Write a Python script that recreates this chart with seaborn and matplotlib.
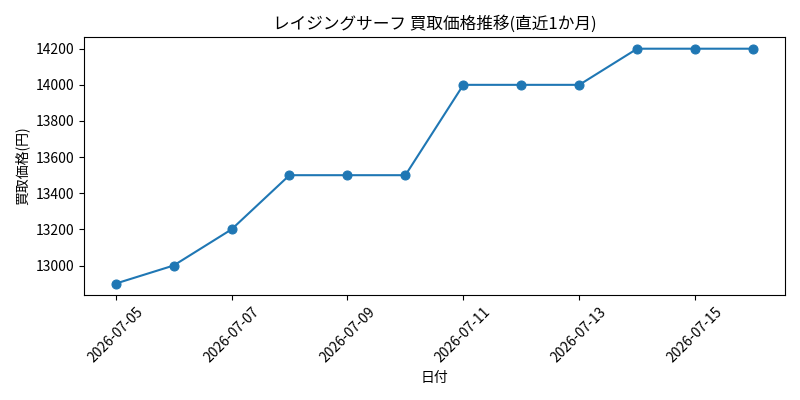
import pandas as pd
import matplotlib
matplotlib.use('Agg')
import matplotlib.pyplot as plt
import seaborn as sns

# price data
dates = ['2026-07-05', '2026-07-06', '2026-07-07', '2026-07-08', '2026-07-09', '2026-07-10',
         '2026-07-11', '2026-07-12', '2026-07-13', '2026-07-14', '2026-07-15', '2026-07-16']
prices = [12900, 13000, 13200, 13500, 13500, 13500, 14000, 14000, 14000, 14200, 14200, 14200]

plt.rcParams['font.family'] = ['Noto Sans CJK JP', 'DejaVu Sans']

df = pd.DataFrame({'date': pd.to_datetime(dates), 'price': prices})

fig, ax = plt.subplots(figsize=(8, 4), dpi=100)
sns.lineplot(data=df, x='date', y='price', marker='o', markersize=6.5,
             markeredgecolor='#1f77b4', color='#1f77b4', ax=ax)
ax.set_title('レイジングサーフ 買取価格推移(直近1か月)')
ax.set_xlabel('日付')
ax.set_ylabel('買取価格(円)')
plt.xticks(rotation=45)
plt.tight_layout()
plt.savefig('out.png')
